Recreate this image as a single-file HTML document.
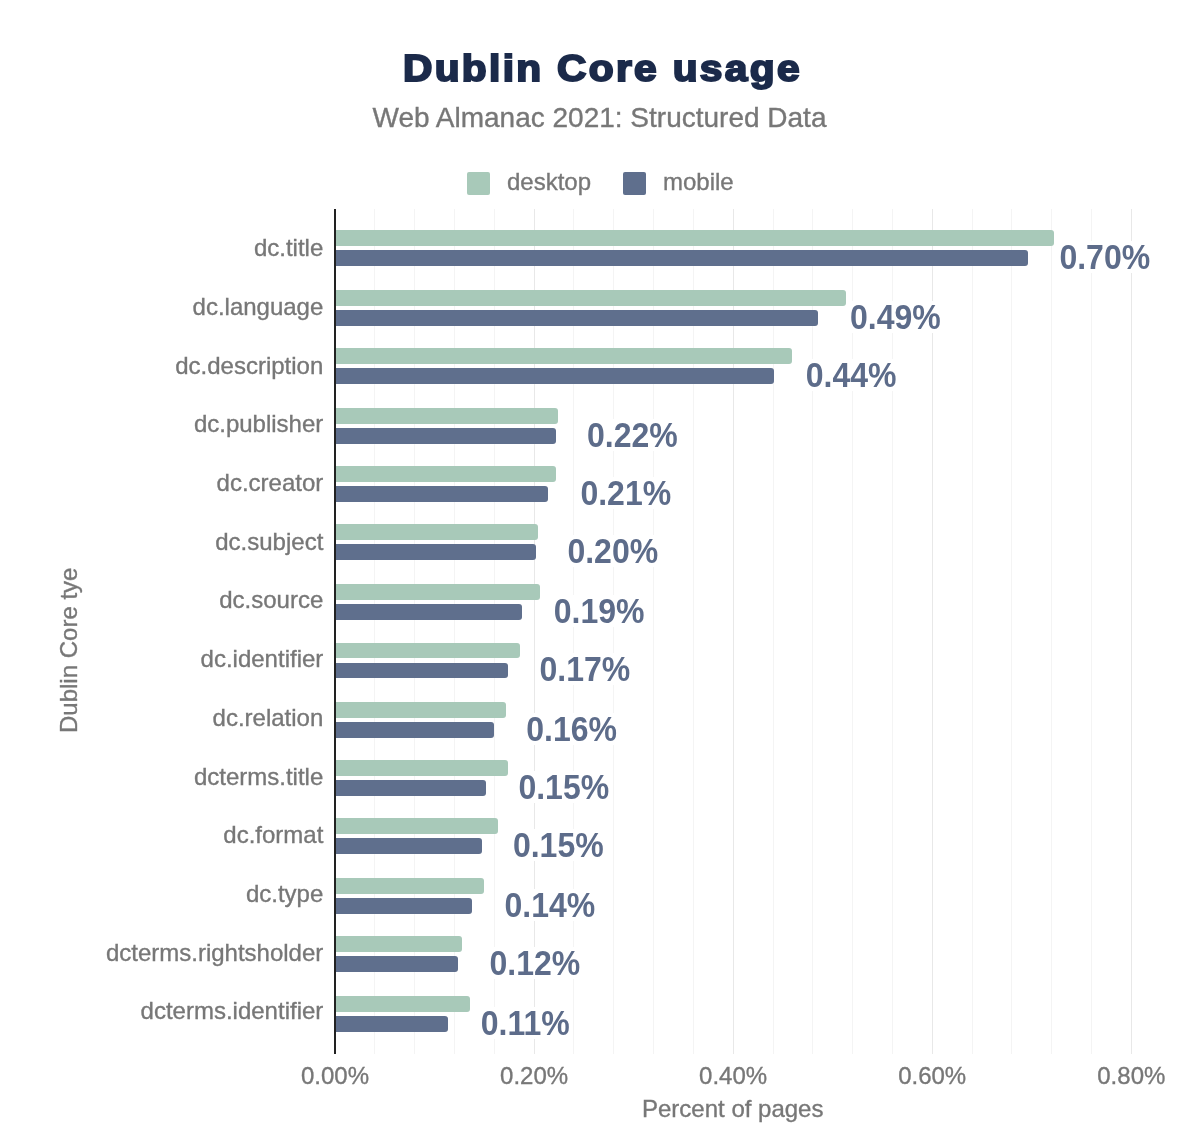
<!DOCTYPE html>
<html><head><meta charset="utf-8"><title>Dublin Core usage</title>
<style>
html,body{margin:0;padding:0;background:#fff;}
body{width:1200px;height:1148px;position:relative;overflow:hidden;font-family:"Liberation Sans",sans-serif;}
.rt{-webkit-text-stroke:0.35px #777777;}
.a{position:absolute;white-space:nowrap;}
.gl{position:absolute;width:1px;}
.bar{position:absolute;border-radius:0 3px 3px 0;}
.cat{position:absolute;font-size:24px;line-height:24px;color:#777777;text-align:right;white-space:nowrap;}
.val{position:absolute;font-size:32.0px;line-height:32.0px;font-weight:bold;color:#5d6c8a;white-space:nowrap;transform-origin:0 0;transform:scaleY(1.070);}
.tick{position:absolute;font-size:24px;line-height:24px;color:#777777;white-space:nowrap;text-align:center;width:120px;}
</style></head><body><div id="wrap" style="position:absolute;left:0;top:0;width:1200px;height:1148px;will-change:transform;">
<div class="a" style="left:402.5px;top:49.9px;font-size:37.0px;line-height:37.0px;font-weight:bold;color:#1b2a4a;letter-spacing:2.10px;-webkit-text-stroke:2.00px #1b2a4a;transform-origin:0 0;transform:scaleX(1.100);">Dublin Core usage</div>
<div class="a rt" style="left:372.5px;top:103.8px;font-size:28px;line-height:28px;color:#777777;">Web Almanac 2021: Structured Data</div>
<div class="a" style="left:467px;top:171.5px;width:23px;height:23px;border-radius:2px;background:#a8c9b9;"></div>
<div class="a" style="left:623px;top:171.5px;width:23px;height:23px;border-radius:2px;background:#5f6f8d;"></div>
<div class="a rt" style="left:507.0px;top:169.8px;font-size:24px;line-height:24px;color:#777777;">desktop</div>
<div class="a rt" style="left:663.0px;top:169.8px;font-size:24px;line-height:24px;color:#777777;">mobile</div>
<div class="gl" style="left:374.3px;top:208.5px;height:845.5px;background:#f4f4f4;"></div>
<div class="gl" style="left:414.1px;top:208.5px;height:845.5px;background:#f4f4f4;"></div>
<div class="gl" style="left:453.9px;top:208.5px;height:845.5px;background:#f4f4f4;"></div>
<div class="gl" style="left:493.8px;top:208.5px;height:845.5px;background:#f4f4f4;"></div>
<div class="gl" style="left:533.6px;top:208.5px;height:845.5px;background:#e8e8e8;"></div>
<div class="gl" style="left:573.4px;top:208.5px;height:845.5px;background:#f4f4f4;"></div>
<div class="gl" style="left:613.2px;top:208.5px;height:845.5px;background:#f4f4f4;"></div>
<div class="gl" style="left:653.0px;top:208.5px;height:845.5px;background:#f4f4f4;"></div>
<div class="gl" style="left:692.8px;top:208.5px;height:845.5px;background:#f4f4f4;"></div>
<div class="gl" style="left:732.6px;top:208.5px;height:845.5px;background:#e8e8e8;"></div>
<div class="gl" style="left:772.5px;top:208.5px;height:845.5px;background:#f4f4f4;"></div>
<div class="gl" style="left:812.3px;top:208.5px;height:845.5px;background:#f4f4f4;"></div>
<div class="gl" style="left:852.1px;top:208.5px;height:845.5px;background:#f4f4f4;"></div>
<div class="gl" style="left:891.9px;top:208.5px;height:845.5px;background:#f4f4f4;"></div>
<div class="gl" style="left:931.7px;top:208.5px;height:845.5px;background:#e8e8e8;"></div>
<div class="gl" style="left:971.5px;top:208.5px;height:845.5px;background:#f4f4f4;"></div>
<div class="gl" style="left:1011.4px;top:208.5px;height:845.5px;background:#f4f4f4;"></div>
<div class="gl" style="left:1051.2px;top:208.5px;height:845.5px;background:#f4f4f4;"></div>
<div class="gl" style="left:1091.0px;top:208.5px;height:845.5px;background:#f4f4f4;"></div>
<div class="gl" style="left:1130.8px;top:208.5px;height:845.5px;background:#e8e8e8;"></div>
<div class="bar" style="left:335.0px;top:230.0px;width:719.0px;height:15.7px;background:#a8c9b9;"></div>
<div class="bar" style="left:335.0px;top:250.0px;width:692.7px;height:15.7px;background:#5f6f8d;"></div>
<div class="bar" style="left:335.0px;top:290.3px;width:510.8px;height:15.7px;background:#a8c9b9;"></div>
<div class="bar" style="left:335.0px;top:310.3px;width:483.0px;height:15.7px;background:#5f6f8d;"></div>
<div class="bar" style="left:335.0px;top:348.3px;width:456.7px;height:15.7px;background:#a8c9b9;"></div>
<div class="bar" style="left:335.0px;top:368.3px;width:438.7px;height:15.7px;background:#5f6f8d;"></div>
<div class="bar" style="left:335.0px;top:408.0px;width:222.5px;height:15.7px;background:#a8c9b9;"></div>
<div class="bar" style="left:335.0px;top:428.0px;width:220.8px;height:15.7px;background:#5f6f8d;"></div>
<div class="bar" style="left:335.0px;top:466.3px;width:220.8px;height:15.7px;background:#a8c9b9;"></div>
<div class="bar" style="left:335.0px;top:486.3px;width:212.8px;height:15.7px;background:#5f6f8d;"></div>
<div class="bar" style="left:335.0px;top:524.2px;width:202.5px;height:15.7px;background:#a8c9b9;"></div>
<div class="bar" style="left:335.0px;top:544.2px;width:200.5px;height:15.7px;background:#5f6f8d;"></div>
<div class="bar" style="left:335.0px;top:584.2px;width:204.7px;height:15.7px;background:#a8c9b9;"></div>
<div class="bar" style="left:335.0px;top:604.2px;width:186.7px;height:15.7px;background:#5f6f8d;"></div>
<div class="bar" style="left:335.0px;top:642.5px;width:185.0px;height:15.7px;background:#a8c9b9;"></div>
<div class="bar" style="left:335.0px;top:662.5px;width:173.0px;height:15.7px;background:#5f6f8d;"></div>
<div class="bar" style="left:335.0px;top:702.2px;width:170.8px;height:15.7px;background:#a8c9b9;"></div>
<div class="bar" style="left:335.0px;top:722.2px;width:158.7px;height:15.7px;background:#5f6f8d;"></div>
<div class="bar" style="left:335.0px;top:760.3px;width:172.5px;height:15.7px;background:#a8c9b9;"></div>
<div class="bar" style="left:335.0px;top:780.3px;width:150.8px;height:15.7px;background:#5f6f8d;"></div>
<div class="bar" style="left:335.0px;top:818.3px;width:163.0px;height:15.7px;background:#a8c9b9;"></div>
<div class="bar" style="left:335.0px;top:838.3px;width:146.7px;height:15.7px;background:#5f6f8d;"></div>
<div class="bar" style="left:335.0px;top:878.3px;width:148.7px;height:15.7px;background:#a8c9b9;"></div>
<div class="bar" style="left:335.0px;top:898.3px;width:136.7px;height:15.7px;background:#5f6f8d;"></div>
<div class="bar" style="left:335.0px;top:936.3px;width:126.7px;height:15.7px;background:#a8c9b9;"></div>
<div class="bar" style="left:335.0px;top:956.3px;width:123.0px;height:15.7px;background:#5f6f8d;"></div>
<div class="bar" style="left:335.0px;top:996.3px;width:135.0px;height:15.7px;background:#a8c9b9;"></div>
<div class="bar" style="left:335.0px;top:1016.3px;width:112.5px;height:15.7px;background:#5f6f8d;"></div>
<div class="a" style="left:333.8px;top:208.5px;width:2.0px;height:845px;background:#222;"></div>
<div class="cat rt" style="right:876.7px;top:236.1px;">dc.title</div>
<div class="cat rt" style="right:876.7px;top:294.8px;">dc.language</div>
<div class="cat rt" style="right:876.7px;top:353.5px;">dc.description</div>
<div class="cat rt" style="right:876.7px;top:412.2px;">dc.publisher</div>
<div class="cat rt" style="right:876.7px;top:470.9px;">dc.creator</div>
<div class="cat rt" style="right:876.7px;top:529.6px;">dc.subject</div>
<div class="cat rt" style="right:876.7px;top:588.3px;">dc.source</div>
<div class="cat rt" style="right:876.7px;top:647.1px;">dc.identifier</div>
<div class="cat rt" style="right:876.7px;top:705.8px;">dc.relation</div>
<div class="cat rt" style="right:876.7px;top:764.5px;">dcterms.title</div>
<div class="cat rt" style="right:876.7px;top:823.2px;">dc.format</div>
<div class="cat rt" style="right:876.7px;top:881.9px;">dc.type</div>
<div class="cat rt" style="right:876.7px;top:940.6px;">dcterms.rightsholder</div>
<div class="cat rt" style="right:876.7px;top:999.3px;">dcterms.identifier</div>
<div class="a" style="left:1057.7px;top:240.6px;width:94px;height:32px;background:#fff;"></div>
<div class="val" style="left:1059.4px;top:239.6px;">0.70%</div>
<div class="a" style="left:848.3px;top:300.9px;width:94px;height:32px;background:#fff;"></div>
<div class="val" style="left:850.0px;top:299.9px;">0.49%</div>
<div class="a" style="left:804.0px;top:358.9px;width:94px;height:32px;background:#fff;"></div>
<div class="val" style="left:805.7px;top:357.9px;">0.44%</div>
<div class="a" style="left:585.3px;top:418.6px;width:94px;height:32px;background:#fff;"></div>
<div class="val" style="left:587.0px;top:417.6px;">0.22%</div>
<div class="a" style="left:578.7px;top:476.9px;width:94px;height:32px;background:#fff;"></div>
<div class="val" style="left:580.4px;top:475.9px;">0.21%</div>
<div class="a" style="left:565.7px;top:534.8px;width:94px;height:32px;background:#fff;"></div>
<div class="val" style="left:567.4px;top:533.8px;">0.20%</div>
<div class="a" style="left:552.0px;top:594.8px;width:94px;height:32px;background:#fff;"></div>
<div class="val" style="left:553.7px;top:593.8px;">0.19%</div>
<div class="a" style="left:537.8px;top:653.1px;width:94px;height:32px;background:#fff;"></div>
<div class="val" style="left:539.5px;top:652.1px;">0.17%</div>
<div class="a" style="left:524.5px;top:712.8px;width:94px;height:32px;background:#fff;"></div>
<div class="val" style="left:526.2px;top:711.8px;">0.16%</div>
<div class="a" style="left:516.7px;top:770.9px;width:94px;height:32px;background:#fff;"></div>
<div class="val" style="left:518.4px;top:769.9px;">0.15%</div>
<div class="a" style="left:511.2px;top:828.9px;width:94px;height:32px;background:#fff;"></div>
<div class="val" style="left:512.9px;top:827.9px;">0.15%</div>
<div class="a" style="left:502.8px;top:888.9px;width:94px;height:32px;background:#fff;"></div>
<div class="val" style="left:504.5px;top:887.9px;">0.14%</div>
<div class="a" style="left:487.8px;top:946.9px;width:94px;height:32px;background:#fff;"></div>
<div class="val" style="left:489.5px;top:945.9px;">0.12%</div>
<div class="a" style="left:479.0px;top:1006.9px;width:94px;height:32px;background:#fff;"></div>
<div class="val" style="left:480.7px;top:1005.9px;">0.11%</div>
<div class="tick rt" style="left:275.0px;top:1063.9px;">0.00%</div>
<div class="tick rt" style="left:474.1px;top:1063.9px;">0.20%</div>
<div class="tick rt" style="left:673.1px;top:1063.9px;">0.40%</div>
<div class="tick rt" style="left:872.2px;top:1063.9px;">0.60%</div>
<div class="tick rt" style="left:1071.3px;top:1063.9px;">0.80%</div>
<div class="a rt" style="left:642.0px;top:1096.6px;font-size:24px;line-height:24px;color:#777777;">Percent of pages</div>
<div class="a rt" style="left:0;top:0;font-size:24px;line-height:24px;color:#777777;transform-origin:0 0;transform:translate(57.0px,733.0px) rotate(-90deg);">Dublin Core tye</div>
</div></body></html>
